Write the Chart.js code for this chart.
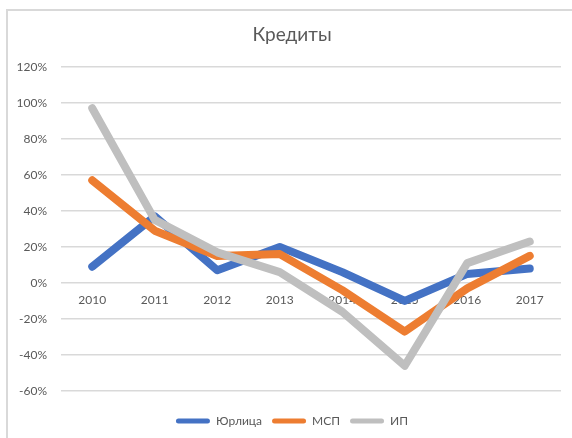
<!DOCTYPE html>
<html>
<head>
<meta charset="utf-8">
<script src="https://cdn.jsdelivr.net/npm/chart.js@4/dist/chart.umd.min.js"></script>
<style>
html,body{margin:0;padding:0;background:#fff;}
#wrap{width:572px;height:438px;position:relative;}
</style>
</head>
<body>
<div id="wrap"><canvas id="c" width="572" height="438"></canvas></div>
<script>
const categories = ['2010','2011','2012','2013','2014','2015','2016','2017'];
const seriesNames = ['Юрлица','МСП','ИП'];
const urlica = [9, 37, 7, 20, 6, -10, 5, 8];
const msp = [57, 29, 15, 16, -4, -27, -3, 15];
const ip = [97, 35, 17, 6, -16, -46, 11, 23];
const chartTitle = 'Кредиты';

const FONT = "Lato, 'Noto Sans', sans-serif";
const TXT = '#595959';

const borderPlugin = {
  id: 'outerBorder',
  beforeDraw(chart) {
    const ctx = chart.ctx;
    ctx.save();
    ctx.fillStyle = '#fff';
    ctx.fillRect(0, 0, chart.width, chart.height);
    ctx.strokeStyle = '#D9D9D9';
    ctx.lineWidth = 2;
    ctx.beginPath();
    ctx.moveTo(7, chart.height);
    ctx.lineTo(7, 10);
    ctx.lineTo(chart.width, 10);
    ctx.stroke();
    ctx.restore();
  }
};

function ds(label, data, color, order) {
  return {
    label, data, borderColor: color, backgroundColor: color,
    borderWidth: 8, pointRadius: 0, pointHoverRadius: 0, tension: 0,
    borderCapStyle: 'round', borderJoinStyle: 'round', fill: false, order
  };
}

new Chart(document.getElementById('c'), {
  type: 'line',
  data: {
    labels: categories,
    datasets: [
      ds(seriesNames[0], urlica, '#4472C4', 3),
      ds(seriesNames[1], msp, '#ED7D31', 2),
      ds(seriesNames[2], ip, '#BFBFBF', 1)
    ]
  },
  options: {
    responsive: false,
    animation: false,
    devicePixelRatio: 1,
    layout: { padding: { left: 23, right: 11, top: 0, bottom: 1 } },
    plugins: {
      tooltip: { enabled: false },
      title: {
        display: true, text: chartTitle, color: TXT,
        font: { family: FONT, size: 19, weight: 'normal' },
        padding: { top: 23, bottom: 21 }
      },
      legend: {
        position: 'bottom',
        labels: {
          color: TXT, font: { family: FONT, size: 12 },
          boxWidth: 34, boxHeight: 5, padding: 10,
          sort: (a, b) => a.datasetIndex - b.datasetIndex,
          generateLabels(chart) {
            const items = Chart.defaults.plugins.legend.labels.generateLabels(chart);
            items.forEach(it => { it.lineWidth = 0; it.borderRadius = 2.5; it.strokeStyle = 'rgba(0,0,0,0)'; });
            return items;
          }
        }
      }
    },
    scales: {
      x: {
        type: 'category',
        position: { y: 0 },
        offset: true,
        grid: { display: false, drawTicks: false },
        border: { display: false },
        ticks: { color: TXT, font: { family: FONT, size: 12 }, padding: 10, maxRotation: 0, autoSkip: false }
      },
      spacer: {
        type: 'category',
        position: 'bottom',
        display: true,
        grid: { display: false, drawTicks: false },
        border: { display: false },
        ticks: { display: false },
        afterFit(s) { s.height = 14; }
      },
      y: {
        min: -60, max: 120,
        grid: { color: '#D9D9D9', lineWidth: 1.5, drawTicks: false },
        border: { display: false },
        ticks: { stepSize: 20, color: TXT, font: { family: FONT, size: 12 }, padding: 14,
          callback: v => v + '%' },
        afterFit(s) { s.width = 38; s._computeLabelArea = () => undefined; }
      }
    }
  },
  plugins: [borderPlugin]
});
</script>
</body>
</html>
